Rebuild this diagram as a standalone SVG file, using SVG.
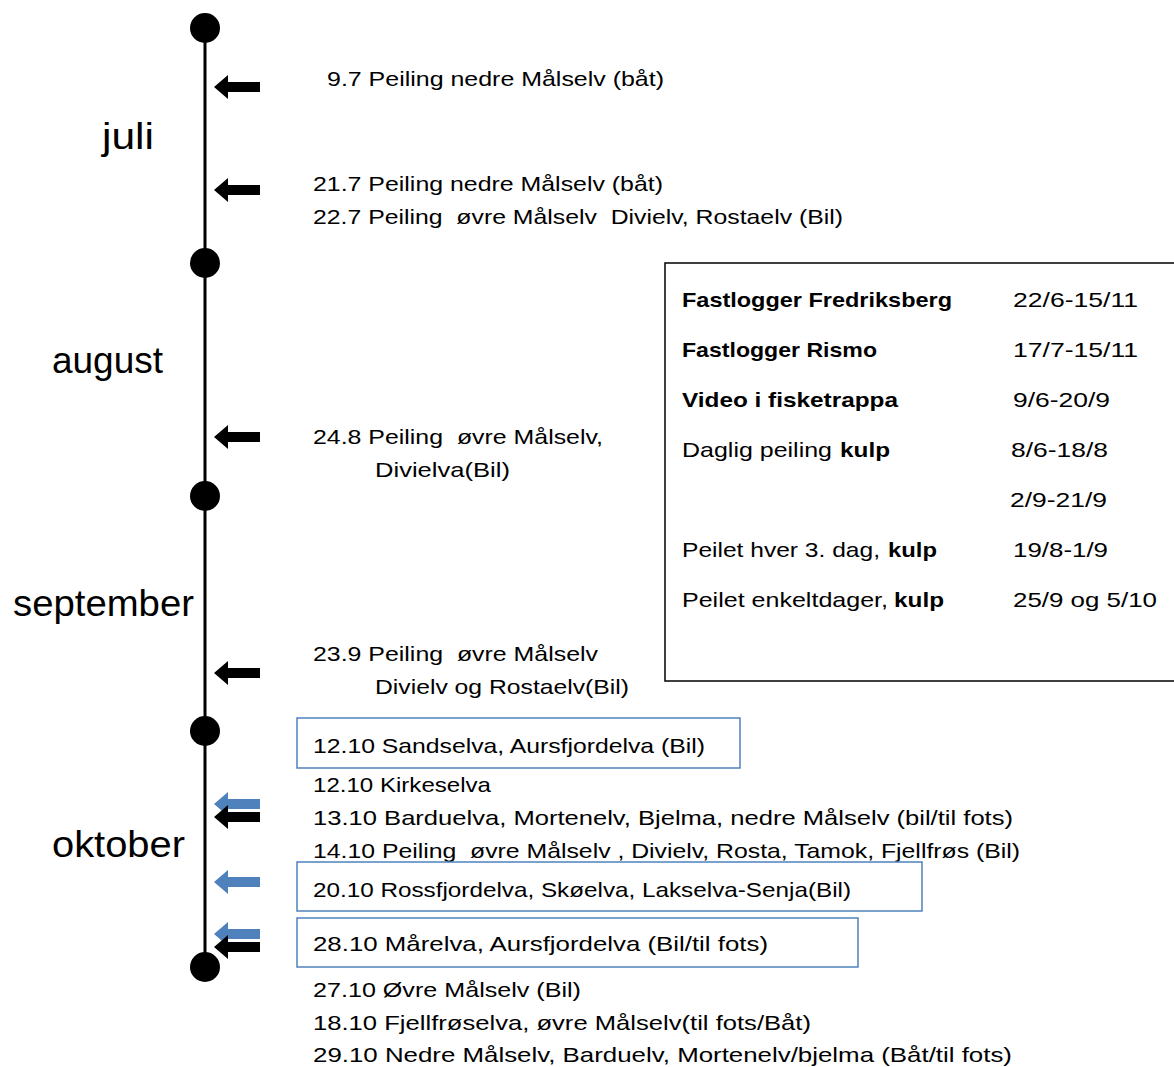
<svg xmlns="http://www.w3.org/2000/svg" width="1174" height="1067" viewBox="0 0 1174 1067">
<style>
text { font-family: "Liberation Sans", Arial, sans-serif; fill: #000; white-space: pre; }
.t { font-size: 21px; }
.m { font-size: 36px; }
.b { font-weight: bold; }
.dot { fill: #000; }
.ab { fill: #000; }
.al { fill: #4F81BD; }
.bb { fill: none; stroke: #4F81BD; stroke-width: 1.5; }
.ib { fill: none; stroke: #000; stroke-width: 1.5; }
</style>
<defs>
<polygon id="arr" points="0,0 14,-12 14,-5 46,-5 46,5 14,5 14,12"/>
</defs>
<rect width="1174" height="1067" fill="#fff"/>
<g id="timeline">
<line x1="205" y1="28" x2="205" y2="967" stroke="#000" stroke-width="3"/>
<circle class="dot" cx="205" cy="28" r="15"/>
<circle class="dot" cx="205" cy="263" r="15"/>
<circle class="dot" cx="205" cy="496" r="15"/>
<circle class="dot" cx="205" cy="731" r="15"/>
<circle class="dot" cx="205" cy="967" r="15"/>
</g>
<g id="months">
<text class="m" x="102" y="149" textLength="52" lengthAdjust="spacingAndGlyphs">juli</text>
<text class="m" x="52" y="373" textLength="111" lengthAdjust="spacingAndGlyphs">august</text>
<text class="m" x="13" y="616" textLength="181" lengthAdjust="spacingAndGlyphs">september</text>
<text class="m" x="52" y="857" textLength="133" lengthAdjust="spacingAndGlyphs">oktober</text>
</g>
<g id="connectors">
<use href="#arr" class="ab" x="214" y="87"/>
<use href="#arr" class="ab" x="214" y="190"/>
<use href="#arr" class="ab" x="214" y="437"/>
<use href="#arr" class="ab" x="214" y="673"/>
<use href="#arr" class="al" x="214" y="804"/>
<use href="#arr" class="ab" x="214" y="817"/>
<use href="#arr" class="al" x="214" y="882"/>
<use href="#arr" class="al" x="214" y="934"/>
<use href="#arr" class="ab" x="214" y="947"/>
</g>
<g id="events">
<text class="t" x="327" y="86" textLength="337" lengthAdjust="spacingAndGlyphs">9.7 Peiling nedre Målselv (båt)</text>
<text class="t" x="313" y="191" textLength="350" lengthAdjust="spacingAndGlyphs">21.7 Peiling nedre Målselv (båt)</text>
<text class="t" x="313" y="224" textLength="530" lengthAdjust="spacingAndGlyphs">22.7 Peiling  øvre Målselv  Divielv, Rostaelv (Bil)</text>
<text class="t" x="313" y="444" textLength="290" lengthAdjust="spacingAndGlyphs">24.8 Peiling  øvre Målselv,</text>
<text class="t" x="375" y="477" textLength="135" lengthAdjust="spacingAndGlyphs">Divielva(Bil)</text>
<text class="t" x="313" y="661" textLength="285" lengthAdjust="spacingAndGlyphs">23.9 Peiling  øvre Målselv</text>
<text class="t" x="375" y="694" textLength="254" lengthAdjust="spacingAndGlyphs">Divielv og Rostaelv(Bil)</text>
</g>
<g id="oct-box-1">
<rect class="bb" x="297" y="718" width="443" height="50"/>
<text class="t" x="313" y="753" textLength="392" lengthAdjust="spacingAndGlyphs">12.10 Sandselva, Aursfjordelva (Bil)</text>
</g>
<g id="oct-events">
<text class="t" x="313" y="792" textLength="178" lengthAdjust="spacingAndGlyphs">12.10 Kirkeselva</text>
<text class="t" x="313" y="825" textLength="700" lengthAdjust="spacingAndGlyphs">13.10 Barduelva, Mortenelv, Bjelma, nedre Målselv (bil/til fots)</text>
<text class="t" x="313" y="858" textLength="707" lengthAdjust="spacingAndGlyphs">14.10 Peiling  øvre Målselv , Divielv, Rosta, Tamok, Fjellfrøs (Bil)</text>
</g>
<g id="oct-box-2">
<rect class="bb" x="297" y="862" width="625" height="49"/>
<text class="t" x="313" y="897" textLength="538" lengthAdjust="spacingAndGlyphs">20.10 Rossfjordelva, Skøelva, Lakselva-Senja(Bil)</text>
</g>
<g id="oct-box-3">
<rect class="bb" x="297" y="918" width="561" height="49"/>
<text class="t" x="313" y="951" textLength="455" lengthAdjust="spacingAndGlyphs">28.10 Mårelva, Aursfjordelva (Bil/til fots)</text>
</g>
<g id="late-events">
<text class="t" x="313" y="997" textLength="268" lengthAdjust="spacingAndGlyphs">27.10 Øvre Målselv (Bil)</text>
<text class="t" x="313" y="1030" textLength="498" lengthAdjust="spacingAndGlyphs">18.10 Fjellfrøselva, øvre Målselv(til fots/Båt)</text>
<text class="t" x="313" y="1062" textLength="699" lengthAdjust="spacingAndGlyphs">29.10 Nedre Målselv, Barduelv, Mortenelv/bjelma (Båt/til fots)</text>
</g>
<g id="info-box">
<rect class="ib" x="665" y="263" width="520" height="418"/>
<text class="t b" x="682" y="307" textLength="270" lengthAdjust="spacingAndGlyphs">Fastlogger Fredriksberg</text>
<text class="t" x="1013" y="307" textLength="125" lengthAdjust="spacingAndGlyphs">22/6-15/11</text>
<text class="t b" x="682" y="357" textLength="195" lengthAdjust="spacingAndGlyphs">Fastlogger Rismo</text>
<text class="t" x="1013" y="357" textLength="125" lengthAdjust="spacingAndGlyphs">17/7-15/11</text>
<text class="t b" x="682" y="407" textLength="216" lengthAdjust="spacingAndGlyphs">Video i fisketrappa</text>
<text class="t" x="1013" y="407" textLength="97" lengthAdjust="spacingAndGlyphs">9/6-20/9</text>
<text class="t" x="682" y="457" textLength="150" lengthAdjust="spacingAndGlyphs">Daglig peiling</text>
<text class="t b" x="840" y="457" textLength="50" lengthAdjust="spacingAndGlyphs">kulp</text>
<text class="t" x="1011" y="457" textLength="97" lengthAdjust="spacingAndGlyphs">8/6-18/8</text>
<text class="t" x="1010" y="507" textLength="97" lengthAdjust="spacingAndGlyphs">2/9-21/9</text>
<text class="t" x="682" y="557" textLength="198" lengthAdjust="spacingAndGlyphs">Peilet hver 3. dag,</text>
<text class="t b" x="888" y="557" textLength="49" lengthAdjust="spacingAndGlyphs">kulp</text>
<text class="t" x="1013" y="557" textLength="95" lengthAdjust="spacingAndGlyphs">19/8-1/9</text>
<text class="t" x="682" y="607" textLength="206" lengthAdjust="spacingAndGlyphs">Peilet enkeltdager,</text>
<text class="t b" x="894" y="607" textLength="50" lengthAdjust="spacingAndGlyphs">kulp</text>
<text class="t" x="1013" y="607" textLength="144" lengthAdjust="spacingAndGlyphs">25/9 og 5/10</text>
</g>
</svg>
